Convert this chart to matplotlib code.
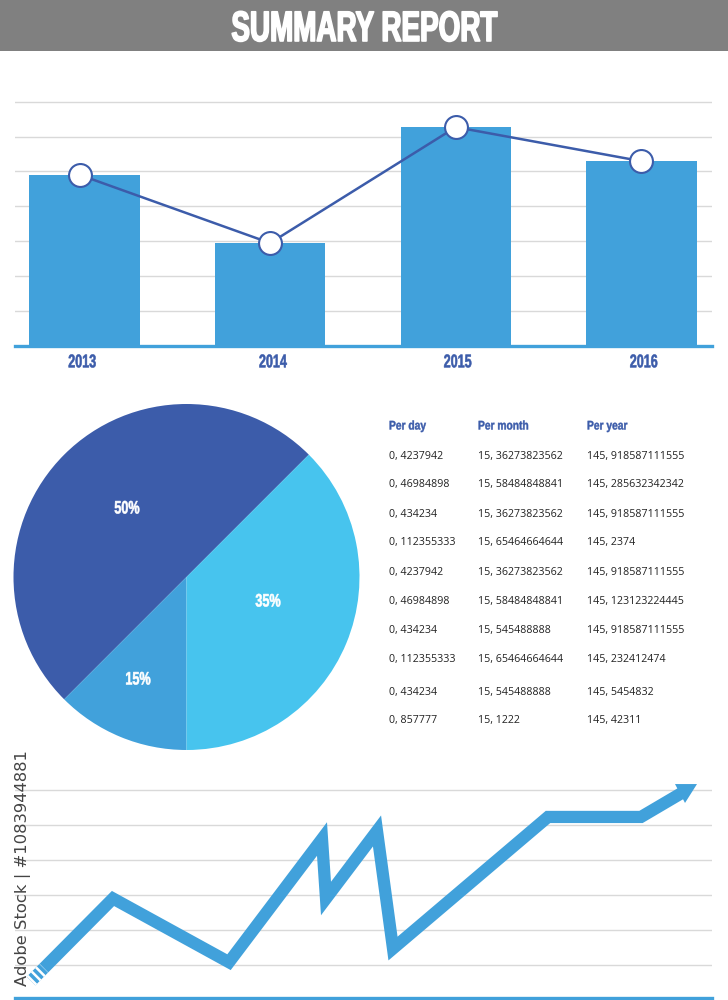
import matplotlib
matplotlib.use("Agg")
import matplotlib.pyplot as plt
from matplotlib.patches import Rectangle
from matplotlib.patheffects import AbstractPathEffect
from matplotlib.transforms import Affine2D

W, H = 728, 1000

# ---- data ----
title = "SUMMARY REPORT"
years = ["2013", "2014", "2015", "2016"]
bar_values = [4.9, 2.95, 6.27, 5.3]
line_values = [4.9, 2.95, 6.27, 5.3]
line_offsets = [-0.024, 0.0, 0.0, -0.005]
label_offsets = [-0.012, 0.015, 0.01, 0.012]

pie_sizes = [50, 12.5, 37.5]
pie_labels = ["50%", "15%", "35%"]

table_headers = ["Per day", "Per month", "Per year"]
per_day = ["0, 4237942", "0, 46984898", "0, 434234", "0, 112355333", "0, 4237942",
           "0, 46984898", "0, 434234", "0, 112355333", "0, 434234", "0, 857777"]
per_month = ["15, 36273823562", "15, 58484848841", "15, 36273823562", "15, 65464664644",
             "15, 36273823562", "15, 58484848841", "15, 545488888", "15, 65464664644",
             "15, 545488888", "15, 1222"]
per_year = ["145, 918587111555", "145, 285632342342", "145, 918587111555", "145, 2374",
            "145, 918587111555", "145, 123123224445", "145, 918587111555", "145, 232412474",
            "145, 5454832", "145, 42311"]

trend_x = [31, 113, 229, 322, 326, 377, 393, 548, 641, 682]
trend_y = [0.54, 2.90, 1.08, 4.60, 2.90, 4.83, 1.47, 5.23, 5.23, 5.92]
stripe_x = [31, 44]
stripe_y = [0.54, 0.91]
head_x = [675, 697, 685]
head_y = [6.17, 6.17, 5.63]

# ---- styles ----
BLUE = "#41a1db"
DARK = "#3c5caa"
LIGHT = "#47c4ee"
GRID = "#d9d9d9"
HEAVY = "Liberation Sans"
BODY = "Open Sans"


class Squeeze(AbstractPathEffect):
    """Draw text narrower about a pivot (no condensed face is installed)."""

    def __init__(self, pivot, sx, stroke=0):
        super().__init__()
        self.pivot, self.sx, self.stroke = pivot, sx, stroke

    def draw_path(self, renderer, gc, tpath, affine, rgbFace=None):
        aff = affine + Affine2D().translate(-self.pivot, 0).scale(self.sx, 1).translate(self.pivot, 0)
        gc0 = renderer.new_gc()
        gc0.copy_properties(gc)
        if self.stroke:
            gc0.set_linewidth(self.stroke)
            gc0.set_foreground(rgbFace)
        renderer.draw_path(gc0, tpath, aff, rgbFace)
        gc0.restore()


def px_axes(fig, x0, y0, x1, y1, **kw):
    """Axes from pixel box, y measured from the top of the image."""
    return fig.add_axes([x0 / W, 1 - y1 / H, (x1 - x0) / W, (y1 - y0) / H], **kw)


def ftext(fig, x, y, s, **kw):
    return fig.text(x / W, 1 - y / H, s, **kw)


def narrow(fig, x, y, s, sx, stroke=0, **kw):
    t = ftext(fig, x, y, s, family=HEAVY, fontweight="bold", va="baseline", **kw)
    t.set_path_effects([Squeeze(x, sx, stroke)])
    return t


fig = plt.figure(figsize=(W / 100, H / 100), dpi=100, facecolor="white")

# header band
fig.add_artist(Rectangle((0, 1 - 51 / H), 1, 51 / H, transform=fig.transFigure,
                         facecolor="#808080", edgecolor="none"))
narrow(fig, 364.5, 41, title, 0.655, stroke=1.2, color="white", fontsize=30.6, ha="center")

# ---- bar + line chart ----
ax = px_axes(fig, 15, 94, 712, 346)
ax.set_ylim(0, 7.22)
ax.set_xlim(-0.374, 3.38)
xs = list(range(len(years)))
ax.set_yticks(range(1, 8))
ax.yaxis.grid(True, color=GRID, lw=1)
ax.set_axisbelow(True)
ax.bar(xs, bar_values, width=0.594, color=BLUE, zorder=2)
ax.plot([x + o for x, o in zip(xs, line_offsets)], line_values, color=DARK, lw=1.8,
        marker="o", ms=16.5, mfc="white", mec=DARK, mew=1.5, zorder=3, clip_on=False)
tick_pos = [x + o for x, o in zip(xs, label_offsets)]
ax.set_xticks(tick_pos, years, color=DARK, fontsize=13.3, fontweight="bold", family=HEAVY)
for tp, lab in zip(tick_pos, ax.get_xticklabels()):
    lab.set_path_effects([Squeeze(ax.transData.transform((tp, 0))[0], 0.68, stroke=0.4)])
ax.tick_params(axis="both", length=0, labelleft=False, pad=6)
for s in ["top", "left", "right"]:
    ax.spines[s].set_visible(False)
ax.spines["bottom"].set_color(BLUE)
ax.spines["bottom"].set_linewidth(2.4)
ax.spines["bottom"].set_zorder(2.5)

# ---- pie ----
pax = px_axes(fig, 13.5, 404, 359.5, 750)
wedges, _ = pax.pie(pie_sizes, colors=[DARK, BLUE, LIGHT], startangle=45, radius=1,
                    counterclock=True, wedgeprops=dict(linewidth=0))
pax.set_xlim(-1, 1)
pax.set_ylim(-1, 1)
for (x, y), lab in zip([(127, 513.5), (138, 684.5), (268, 606.5)], pie_labels):
    narrow(fig, x, y, lab, 0.7, stroke=0.4, color="white", fontsize=13, ha="center")

# ---- table ----
col_x = [389, 478, 587]
row_y = [456.5, 485, 514.5, 543, 572.5, 601.5, 630.5, 659.5, 692, 721]
for cx, head, col in zip(col_x, table_headers, [per_day, per_month, per_year]):
    narrow(fig, cx, 429.5, head, 0.82, stroke=0.3, color=DARK, fontsize=9, ha="left")
    for ry, val in zip(row_y, col):
        ftext(fig, cx, ry, val, color="#222222", fontsize=7.7, family=BODY,
              ha="left", va="center")

# ---- trend chart ----
tax = px_axes(fig, 15, 770, 712, 998)
tax.set_xlim(15, 712)
tax.set_ylim((1000 - 998) / 35, (1000 - 770) / 35)
tax.set_yticks(range(1, 7))
tax.yaxis.grid(True, color=GRID, lw=1)
tax.set_axisbelow(True)
tax.set_xticks([])
tax.tick_params(axis="y", length=0, labelleft=False)
for s in ["top", "left", "right"]:
    tax.spines[s].set_visible(False)
tax.spines["bottom"].set_color(BLUE)
tax.spines["bottom"].set_linewidth(2.4)
tax.plot(trend_x, trend_y, color=BLUE, lw=8.8, solid_joinstyle="miter",
         solid_capstyle="butt", zorder=3)
tax.fill(head_x, head_y, color=BLUE, lw=0, zorder=4)
tax.plot(stripe_x, stripe_y, color="white", lw=9.0, linestyle=(0, (0.2, 0.28)),
         dash_capstyle="butt", zorder=5)

# stock-image credit on the left edge
ftext(fig, 23, 868, "Adobe Stock | #1083944881", rotation=90, color="#444444",
      fontsize=11.8, family="DejaVu Sans", ha="center", va="center", zorder=10)

fig.savefig("out.png", dpi=100)
